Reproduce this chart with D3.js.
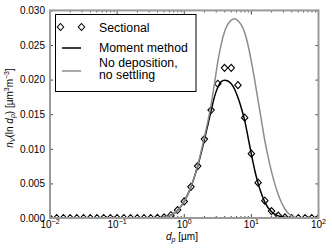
<!DOCTYPE html>
<html>
<head>
<meta charset="utf-8">
<script src="https://cdn.jsdelivr.net/npm/d3@7"></script>
<style>
  body { margin: 0; background: #fff; }
  svg { display: block; font-family: "Liberation Sans", Arial, sans-serif; }
</style>
</head>
<body>
<svg id="chart" width="332" height="251"></svg>
<script>
// sectional bins (log10 of d_p in um) and their values
const sectionalLogD = [-2.0, -1.9, -1.8, -1.7, -1.6, -1.5, -1.4, -1.3, -1.2, -1.1,
  -1.0, -0.9, -0.8, -0.7, -0.6, -0.5, -0.4, -0.3, -0.2, -0.1,
  0.0, 0.1, 0.2, 0.3, 0.4, 0.5, 0.6, 0.7, 0.8, 0.9,
  1.0, 1.1, 1.2, 1.3, 1.4, 1.5, 1.6, 1.7, 1.8, 1.9, 2.0];
const sectionalVals = [0, 0, 0, 0, 0, 0, 0, 0, 0, 0,
  0, 0, 0, 0, 0, 0, 0.00002, 0.0001, 0.0004, 0.00115,
  0.0024, 0.0045, 0.0075, 0.0114, 0.0156, 0.0194, 0.0217, 0.0217, 0.0192, 0.0145,
  0.0093, 0.0051, 0.0025, 0.0010, 0.00035, 0.0001, 0, 0, 0, 0, 0];

// moment method curve
const momentLogD = [-2.0, -0.5, -0.4, -0.3, -0.2, -0.1, 0.0, 0.1, 0.2, 0.3, 0.35, 0.4, 0.45,
  0.5, 0.55, 0.6, 0.65, 0.7, 0.75, 0.8, 0.85, 0.9, 0.95, 1.0, 1.05, 1.1, 1.15, 1.2,
  1.3, 1.4, 1.5, 1.6, 2.0];
const momentVals = [0, 0, 0.00004, 0.00012, 0.0004, 0.0011, 0.0024, 0.0045, 0.0075, 0.0113, 0.0134, 0.0155, 0.0175,
  0.0189, 0.0197, 0.0199, 0.0198, 0.0194, 0.0186, 0.0174, 0.0159, 0.0141, 0.0117, 0.0092, 0.0069, 0.0050, 0.0035, 0.0023,
  0.0009, 0.0003, 0.0001, 0, 0];

// no deposition, no settling curve
const noDepLogD = [-2.0, -0.5, -0.4, -0.3, -0.2, -0.1, 0.0, 0.1, 0.2, 0.3, 0.35, 0.4, 0.45,
  0.5, 0.55, 0.6, 0.65, 0.7, 0.75, 0.8, 0.85, 0.9, 0.95, 1.0, 1.05, 1.1, 1.15, 1.2,
  1.25, 1.3, 1.35, 1.4, 1.45, 1.5, 1.55, 1.6, 1.65, 1.7, 2.0];
const noDepVals = [0, 0, 0.00004, 0.00012, 0.0004, 0.0011, 0.0024, 0.0045, 0.0076, 0.0117, 0.0139, 0.0164, 0.0194,
  0.0226, 0.0251, 0.0269, 0.0280, 0.0286, 0.0288, 0.0285, 0.0279, 0.0268, 0.0250, 0.0226, 0.0199, 0.0170, 0.0141, 0.0112,
  0.0088, 0.0067, 0.0049, 0.0034, 0.0022, 0.0013, 0.0007, 0.0003, 0.0001, 0, 0];

const yTicks = [0, 0.005, 0.010, 0.015, 0.020, 0.025, 0.030];
const xTicks = [0.01, 0.1, 1, 10, 100];
const xTickExp = ["\u22122", "\u22121", "0", "1", "2"];
const legendLabels = ["Sectional", "Moment method", ["No deposition,", "no settling"]];

const pLeft = 50, pRight = 318.5, pTop = 10.4, pBottom = 218;
const frameColor = "#9a9a9a";
const grayLine = "#8c8c8c";

const svg = d3.select("#chart");

const x = d3.scaleLog().domain([0.01, 100]).range([pLeft, pRight]);
const y = d3.scaleLinear().domain([0, 0.03]).range([pBottom, pTop]);

svg.append("defs").append("clipPath").attr("id", "plotclip")
  .append("rect")
  .attr("x", pLeft).attr("y", pTop)
  .attr("width", pRight - pLeft).attr("height", pBottom - pTop);

// y axis left and right (ticks inward)
svg.append("g")
  .attr("transform", `translate(${pLeft},0)`)
  .call(d3.axisLeft(y).tickValues(yTicks).tickFormat(d3.format(".3f"))
    .tickSizeInner(-3).tickSizeOuter(0).tickPadding(5))
  .call(g => g.select(".domain").remove())
  .call(g => g.selectAll("line").attr("stroke", "#444"))
  .call(g => g.selectAll("text").attr("font-size", 10).attr("fill", "#000")
    .attr("font-family", "Liberation Sans, Arial, sans-serif"));

svg.append("g")
  .attr("transform", `translate(${pRight},0)`)
  .call(d3.axisRight(y).tickValues(yTicks).tickFormat("")
    .tickSizeInner(-3).tickSizeOuter(0))
  .call(g => g.select(".domain").remove())
  .call(g => g.selectAll("line").attr("stroke", "#444"));

// log x ticks, major and minor, bottom and top
const minor = [];
[0.01, 0.1, 1, 10].forEach(dec => {
  for (let m = 2; m <= 9; m++) minor.push(dec * m);
});

[[pBottom, -1], [pTop, 1]].forEach(([yy, dir]) => {
  svg.append("g").selectAll("line.major")
    .data(xTicks)
    .enter().append("line")
    .attr("x1", d => x(d)).attr("x2", d => x(d))
    .attr("y1", yy).attr("y2", yy + dir * 4)
    .attr("stroke", "#444");
  svg.append("g").selectAll("line.minor")
    .data(minor)
    .enter().append("line")
    .attr("x1", d => x(d)).attr("x2", d => x(d))
    .attr("y1", yy).attr("y2", yy + dir * 2)
    .attr("stroke", "#444");
});

// x tick labels 10^n
const xl = svg.append("g").selectAll("text")
  .data(xTicks)
  .enter().append("text")
  .attr("x", d => x(d))
  .attr("y", 227.5)
  .attr("text-anchor", "middle")
  .attr("font-size", 10);
xl.append("tspan").text("10");
xl.append("tspan").attr("dy", -4).attr("font-size", 7).text((d, i) => xTickExp[i]);

// series
const plot = svg.append("g").attr("clip-path", "url(#plotclip)");

const sectional = sectionalLogD.map((e, i) => ({ d: Math.pow(10, e), v: sectionalVals[i] }));
const moment = momentLogD.map((e, i) => ({ d: Math.pow(10, e), v: momentVals[i] }));
const noDep = noDepLogD.map((e, i) => ({ d: Math.pow(10, e), v: noDepVals[i] }));

const diamond = "M0,-3.5L3.2,0L0,3.5L-3.2,0Z";

plot.selectAll("path.sec")
  .data(sectional)
  .enter().append("path")
  .attr("class", "sec")
  .attr("d", diamond)
  .attr("transform", d => `translate(${x(d.d)},${y(d.v)})`)
  .attr("fill", "#fff")
  .attr("stroke", "#000")
  .attr("stroke-width", 1.1);

const line = d3.line()
  .x(d => x(d.d))
  .y(d => y(d.v))
  .curve(d3.curveMonotoneX);

plot.append("path")
  .datum(moment)
  .attr("fill", "none")
  .attr("stroke", "#000")
  .attr("stroke-width", 1.5)
  .attr("d", line);

plot.append("path")
  .datum(noDep)
  .attr("fill", "none")
  .attr("stroke", grayLine)
  .attr("stroke-width", 1.5)
  .attr("d", line);

// frame
svg.append("rect")
  .attr("x", pLeft).attr("y", pTop)
  .attr("width", pRight - pLeft).attr("height", pBottom - pTop)
  .attr("fill", "none")
  .attr("stroke", frameColor)
  .attr("stroke-width", 2);

// legend
const lg = svg.append("g");
lg.append("rect")
  .attr("x", 55.5).attr("y", 14.5)
  .attr("width", 140.5).attr("height", 77)
  .attr("fill", "#fff")
  .attr("stroke", "#000")
  .attr("stroke-width", 1);

[60.5, 81.5].forEach(px => {
  lg.append("path")
    .attr("d", diamond)
    .attr("transform", `translate(${px},27)`)
    .attr("fill", "#fff")
    .attr("stroke", "#000")
    .attr("stroke-width", 1.1);
});
lg.append("line")
  .attr("x1", 62).attr("x2", 81).attr("y1", 48).attr("y2", 48)
  .attr("stroke", "#000").attr("stroke-width", 1.5);
lg.append("line")
  .attr("x1", 62).attr("x2", 81).attr("y1", 71).attr("y2", 71)
  .attr("stroke", grayLine).attr("stroke-width", 1.5);

const legFont = 12.3;
lg.append("text").attr("x", 99).attr("y", 32.3).attr("font-size", legFont).text(legendLabels[0]);
lg.append("text").attr("x", 99).attr("y", 52.3).attr("font-size", legFont).text(legendLabels[1]);
lg.append("text").attr("x", 99).attr("y", 66.6).attr("font-size", legFont).text(legendLabels[2][0]);
lg.append("text").attr("x", 99).attr("y", 78.6).attr("font-size", legFont).text(legendLabels[2][1]);

// axis labels
const xlab = svg.append("text")
  .attr("x", 182).attr("y", 240)
  .attr("text-anchor", "middle")
  .attr("font-size", 10);
xlab.append("tspan").attr("font-style", "italic").text("d");
xlab.append("tspan").attr("font-style", "italic").attr("font-size", 7).attr("dy", 2).text("p");
xlab.append("tspan").attr("dy", -2).text(" [\u00b5m]");

const ylab = svg.append("text")
  .attr("transform", "translate(13,108) rotate(-90)")
  .attr("text-anchor", "middle")
  .attr("font-size", 10);
ylab.append("tspan").attr("font-style", "italic").text("n");
ylab.append("tspan").attr("font-style", "italic").attr("font-size", 7).attr("dy", 2).text("V");
ylab.append("tspan").attr("dy", -2).text("(ln ");
ylab.append("tspan").attr("font-style", "italic").text("d");
ylab.append("tspan").attr("font-style", "italic").attr("font-size", 7).attr("dy", 2).text("p");
ylab.append("tspan").attr("dy", -2).text(") [\u00b5m");
ylab.append("tspan").attr("font-size", 7).attr("dy", -4).text("3");
ylab.append("tspan").attr("dy", 4).text("m");
ylab.append("tspan").attr("font-size", 7).attr("dy", -4).text("\u22123");
ylab.append("tspan").attr("dy", 4).text("]");
</script>
</body>
</html>
